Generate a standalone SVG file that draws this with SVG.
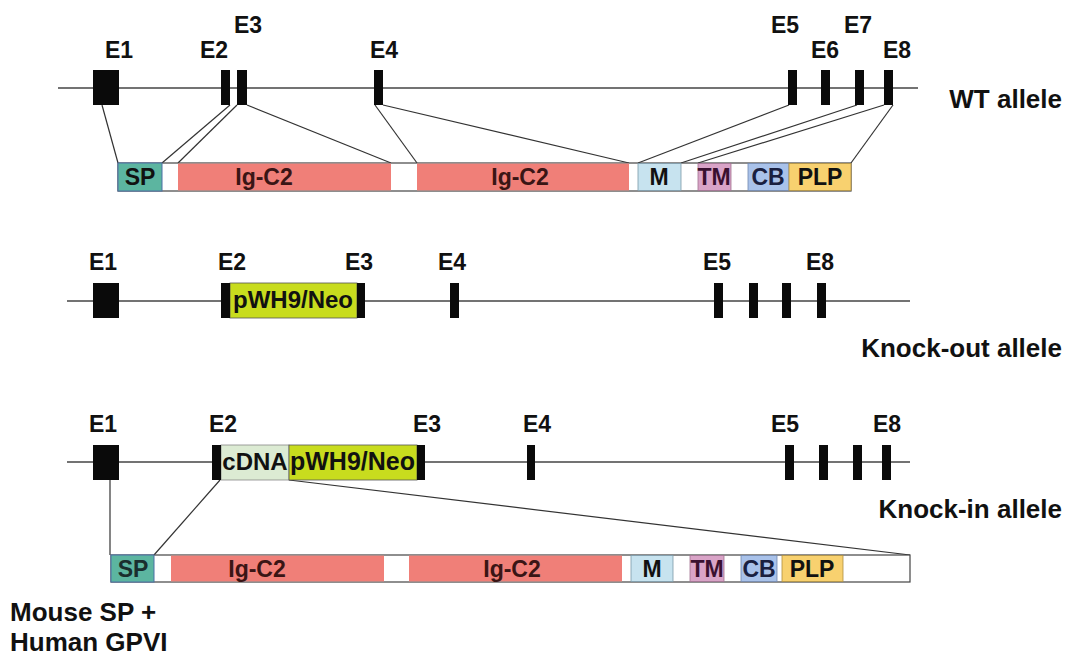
<svg xmlns="http://www.w3.org/2000/svg" width="1067" height="657" viewBox="0 0 1067 657">
<style>
text{font-family:"Liberation Sans",Arial,sans-serif;font-weight:bold;fill:#111}
.ex{fill:#0a0a0a}
.gl{stroke:#444;stroke-width:1.5;fill:none}
.cn{stroke:#333;stroke-width:1.2;fill:none}
.lab{font-size:23px;text-anchor:middle}
.row{font-size:26px}
.seg{font-size:23px;text-anchor:middle}
.bar{fill:#fff;stroke:#444;stroke-width:1.2}
.sp{fill:#5cb5a0;stroke:#4a6fa5;stroke-width:1}
.ig{fill:#f07f78}
.m{fill:#c7e3ef;stroke:#7a9aa8;stroke-width:0.8}
.tm{fill:#d9a3c7;stroke:#a07090;stroke-width:0.8}
.cb{fill:#a9c2ea;stroke:#7088b0;stroke-width:0.8}
.plp{fill:#f8d16f;stroke:#b09040;stroke-width:0.8}
.neo{fill:#c8dc1e;stroke:#555;stroke-width:0.8}
.cdna{fill:#dcebd3;stroke:#888;stroke-width:0.8}
</style>

<g id="connectors">
<line class="cn" x1="102" y1="105" x2="118" y2="163"/>
<line class="cn" x1="230" y1="105" x2="162" y2="163"/>
<line class="cn" x1="237" y1="105" x2="178" y2="163"/>
<line class="cn" x1="247" y1="105" x2="391" y2="163"/>
<line class="cn" x1="375" y1="105" x2="417" y2="163"/>
<line class="cn" x1="383" y1="105" x2="629" y2="163"/>
<line class="cn" x1="789" y1="105" x2="638" y2="163"/>
<line class="cn" x1="857" y1="105" x2="681" y2="163"/>
<line class="cn" x1="884" y1="105" x2="698" y2="163"/>
<line class="cn" x1="893" y1="105" x2="851" y2="163"/>
<line class="cn" x1="110" y1="480" x2="110" y2="555"/>
<line class="cn" x1="220" y1="480" x2="154" y2="555"/>
<line class="cn" x1="289" y1="480" x2="910" y2="555"/>
</g>

<g id="wt-allele">
<line class="gl" x1="58" y1="88" x2="918" y2="88"/>
<rect class="ex" x="93" y="70" width="26" height="35"/>
<rect class="ex" x="221" y="70" width="9" height="35"/>
<rect class="ex" x="237" y="70" width="10" height="35"/>
<rect class="ex" x="374" y="70" width="9" height="35"/>
<rect class="ex" x="788" y="70" width="9" height="35"/>
<rect class="ex" x="821" y="70" width="9" height="35"/>
<rect class="ex" x="855" y="70" width="9" height="35"/>
<rect class="ex" x="884" y="70" width="9" height="35"/>
<text class="lab" x="119" y="58">E1</text>
<text class="lab" x="214" y="58">E2</text>
<text class="lab" x="248" y="33">E3</text>
<text class="lab" x="384" y="58">E4</text>
<text class="lab" x="785" y="33">E5</text>
<text class="lab" x="825" y="58">E6</text>
<text class="lab" x="858" y="33">E7</text>
<text class="lab" x="897" y="58">E8</text>
<text class="row" x="1062" y="108" text-anchor="end">WT allele</text>
</g>

<g id="wt-protein">
<rect class="bar" x="118" y="163" width="733" height="28"/>
<rect class="sp" x="118" y="163" width="44" height="28"/>
<rect class="ig" x="178" y="163.6" width="213" height="26.8"/>
<rect class="ig" x="417" y="163.6" width="212" height="26.8"/>
<rect class="m" x="638" y="163.5" width="43" height="27"/>
<rect class="tm" x="698" y="163.5" width="33" height="27"/>
<rect class="cb" x="748" y="163.5" width="41" height="27"/>
<rect class="plp" x="789" y="163.5" width="62" height="27"/>
<text class="seg" x="140" y="185" fill="#1a2e2e">SP</text>
<text class="seg" x="264" y="185" style="fill:#3a1515">Ig-C2</text>
<text class="seg" x="520" y="185" style="fill:#3a1515">Ig-C2</text>
<text class="seg" x="659" y="185">M</text>
<text class="seg" x="714" y="185" style="fill:#3a1030">TM</text>
<text class="seg" x="768" y="185" style="fill:#1a2040">CB</text>
<text class="seg" x="820" y="185">PLP</text>
</g>

<g id="ko-allele">
<line class="gl" x1="67" y1="301" x2="910" y2="301"/>
<rect class="ex" x="93" y="283" width="26" height="35"/>
<rect class="neo" x="230" y="283" width="127" height="35"/>
<text class="seg" x="293" y="308" style="font-size:24px">pWH9/Neo</text>
<rect class="ex" x="221" y="283" width="9" height="35"/>
<rect class="ex" x="357" y="283" width="8" height="35"/>
<rect class="ex" x="450" y="283" width="9" height="35"/>
<rect class="ex" x="714" y="283" width="9" height="35"/>
<rect class="ex" x="749" y="283" width="9" height="35"/>
<rect class="ex" x="782" y="283" width="9" height="35"/>
<rect class="ex" x="817" y="283" width="9" height="35"/>
<text class="lab" x="103" y="270">E1</text>
<text class="lab" x="232" y="270">E2</text>
<text class="lab" x="359" y="270">E3</text>
<text class="lab" x="452" y="270">E4</text>
<text class="lab" x="717" y="270">E5</text>
<text class="lab" x="820" y="270">E8</text>
<text class="row" x="1062" y="357" text-anchor="end">Knock-out allele</text>
</g>

<g id="ki-allele">
<line class="gl" x1="67" y1="462" x2="910" y2="462"/>
<rect class="ex" x="93" y="445" width="26" height="35"/>
<rect class="cdna" x="221" y="445" width="68" height="35"/>
<rect class="neo" x="289" y="445" width="128" height="35"/>
<text class="seg" x="255" y="470" style="font-size:24px">cDNA</text>
<text x="290" y="470" style="font-size:25px">pWH9/Neo</text>
<rect class="ex" x="212" y="445" width="9" height="35"/>
<rect class="ex" x="417" y="445" width="8" height="35"/>
<rect class="ex" x="527" y="445" width="8" height="35"/>
<rect class="ex" x="785" y="445" width="9" height="35"/>
<rect class="ex" x="819" y="445" width="9" height="35"/>
<rect class="ex" x="853" y="445" width="9" height="35"/>
<rect class="ex" x="882" y="445" width="9" height="35"/>
<text class="lab" x="103" y="432">E1</text>
<text class="lab" x="223" y="432">E2</text>
<text class="lab" x="427" y="432">E3</text>
<text class="lab" x="537" y="432">E4</text>
<text class="lab" x="785" y="432">E5</text>
<text class="lab" x="887" y="432">E8</text>
<text class="row" x="1062" y="518" text-anchor="end">Knock-in allele</text>
</g>

<g id="ki-protein">
<rect class="bar" x="111" y="555" width="799" height="27"/>
<rect class="sp" x="111" y="555" width="43" height="27"/>
<rect class="ig" x="171" y="555.6" width="213" height="25.8"/>
<rect class="ig" x="409" y="555.6" width="213" height="25.8"/>
<rect class="m" x="631" y="555.5" width="42" height="26"/>
<rect class="tm" x="690" y="555.5" width="34" height="26"/>
<rect class="cb" x="741" y="555.5" width="36" height="26"/>
<rect class="plp" x="782" y="555.5" width="61" height="26"/>
<text class="seg" x="133" y="577" style="fill:#1a2e2e">SP</text>
<text class="seg" x="257" y="577" style="fill:#3a1515">Ig-C2</text>
<text class="seg" x="512" y="577" style="fill:#3a1515">Ig-C2</text>
<text class="seg" x="652" y="577">M</text>
<text class="seg" x="707" y="577" style="fill:#3a1030">TM</text>
<text class="seg" x="759" y="577" style="fill:#1a2040">CB</text>
<text class="seg" x="812" y="577">PLP</text>
</g>

<g id="caption">
<text class="row" x="10" y="621">Mouse SP +</text>
<text class="row" x="10" y="651">Human GPVI</text>
</g>
</svg>
